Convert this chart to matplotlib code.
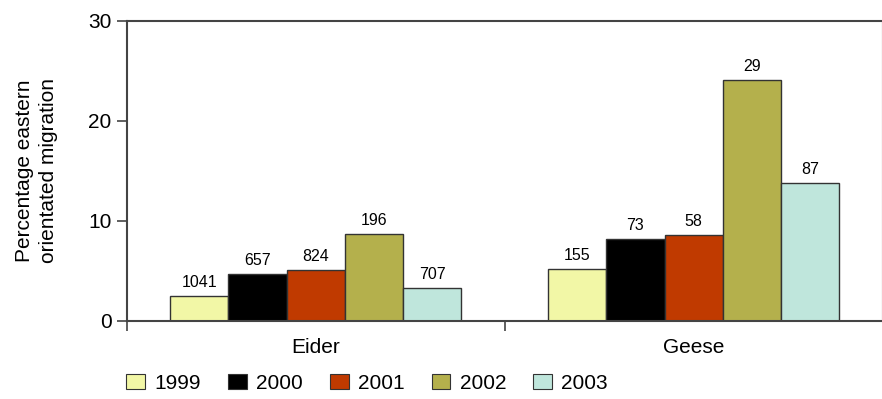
import numpy as np
import matplotlib
matplotlib.use("Agg")
import matplotlib.pyplot as plt
from matplotlib.patches import Patch

plt.rcParams['font.family'] = ['Liberation Sans', 'DejaVu Sans']

# Data
groups = ["Eider", "Geese"]
years = ["1999", "2000", "2001", "2002", "2003"]
eider_pct = [2.5, 4.7, 5.1, 8.7, 3.3]
geese_pct = [5.2, 8.2, 8.6, 24.1, 13.8]
eider_n = [1041, 657, 824, 196, 707]
geese_n = [155, 73, 58, 29, 87]
yticks = [0, 10, 20, 30]

colors = ["#f2f7a6", "#000000", "#c03a00", "#b4b04c", "#bfe6dc"]

pct = np.array([eider_pct, geese_pct])
counts = np.array([eider_n, geese_n])

fig = plt.figure(figsize=(8.82, 3.99), dpi=100)
ax = fig.add_axes([0.1437, 0.1955, 0.857, 0.753])

x = np.arange(len(groups))
width = 0.154
for i, yr in enumerate(years):
    pos = x + (i - 2) * width
    bars = ax.bar(pos, pct[:, i], width, color=colors[i],
                  edgecolor="#333333", linewidth=1.0, zorder=2)
    for b, n in zip(bars, counts[:, i]):
        ax.text(b.get_x() + b.get_width() / 2, b.get_height() + 0.6,
                str(n), ha="center", va="bottom", fontsize=11.5)

ax.set_xlim(-0.5, 1.5)
ax.set_ylim(0, 30)
ax.set_yticks(yticks)
ax.set_xticks([-0.5, 0.5, 1.5])
ax.set_xticklabels([])
ax.set_xticks(x, minor=True)
ax.set_xticklabels(groups, minor=True, fontsize=15)
ax.tick_params(axis="x", which="minor", length=0, pad=12)
ax.tick_params(axis="x", which="major", length=7, width=1.2, color="#444444")
ax.tick_params(axis="y", length=7, width=1.2, color="#444444", labelsize=15, pad=4)

for side in ["left", "bottom", "top", "right"]:
    ax.spines[side].set_color("#444444")
    ax.spines[side].set_linewidth(1.5)

ax.set_ylabel("Percentage eastern\norientated migration", fontsize=15,
              linespacing=1.3, labelpad=22)

handles = [Patch(facecolor=c, edgecolor="#333333", linewidth=0.8) for c in colors]
fig.legend(handles, years, loc="center left", bbox_to_anchor=(0.143, 0.04),
           ncol=5, frameon=False, fontsize=15, handlelength=0.9,
           handleheight=0.75, handletextpad=0.45, columnspacing=1.3,
           borderaxespad=0, borderpad=0)

fig.savefig("out.png", dpi=100)
